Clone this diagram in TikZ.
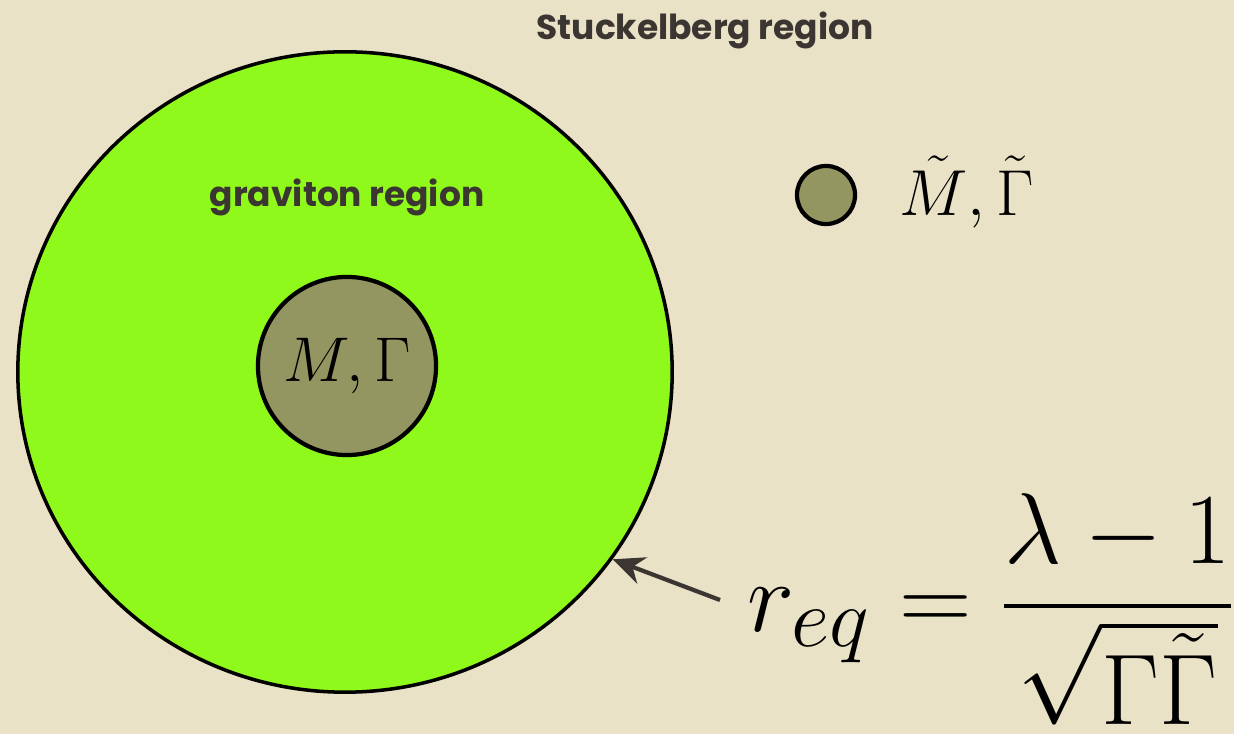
\documentclass[tikz,border=0pt]{standalone}
\usepackage{amsmath}
\usepackage{amssymb}
\usepackage{fontspec}
\newfontfamily\hand{Poppins}
\usetikzlibrary{shapes.geometric,arrows.meta}

\definecolor{paper}{HTML}{EAE2C7}
\definecolor{lime}{HTML}{8EF91A}
\definecolor{olive}{HTML}{939660}
\definecolor{ink}{HTML}{3B3631}

\tikzset{
  region/.style={ink,font=\hand\bfseries\fontsize{9.8}{12}\selectfont},
  blob/.style={circle,draw=black,line width=1.2pt,fill=olive,inner sep=0pt},
  bigmath/.style={font=\fontsize{17.28}{21}\selectfont}
}

\begin{document}
\begin{tikzpicture}[x=0.01cm,y=-0.01cm]
\fill[paper] (0,0) rectangle (1234,734);
\useasboundingbox (0,0) rectangle (1234,734);
\node[ellipse,draw=black,line width=1pt,fill=lime,minimum width=6.54cm,minimum height=6.40cm,inner sep=0pt] (bigc) at (345,372) {};
\node[blob,minimum size=1.78cm] (smallc) at (347,366) {};
\node[bigmath,scale=1.04] (smalllab) at (smallc) {$M,\Gamma$};
\node[blob,minimum size=0.58cm] (legc) at (826,195) {};
\node[bigmath,scale=1.07,anchor=west] (leglab) at (886,192) {$\tilde{M},\tilde{\Gamma}$};
\node[region] (stuck) at (705,30) {Stuckelberg region};
\node[region] (grav) at (347,197) {graviton region};
\node[scale=1.15,anchor=west] (req) at (733,609) {\fontsize{24.88}{30}\selectfont$\displaystyle r_{eq}=\frac{\lambda-1}{\sqrt{\Gamma\tilde{\Gamma}}}$};
\coordinate (tail) at (720,600);
\draw[ink,line width=1.2pt,-{Stealth[length=9pt,width=8pt]}] (tail) -- (bigc.-35);
\end{tikzpicture}
\end{document}
